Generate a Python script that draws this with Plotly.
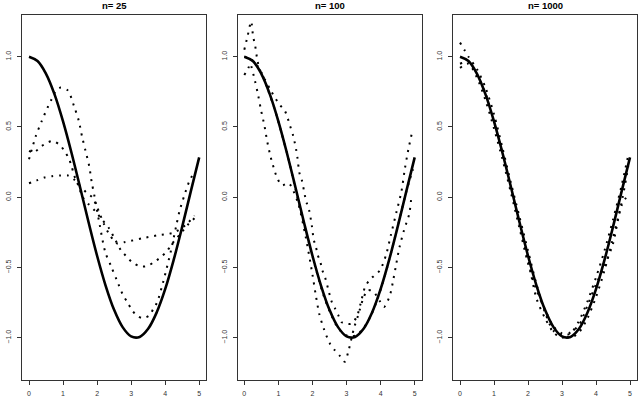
import plotly.graph_objects as go

# ---- data ----
titles = ["n= 25", "n= 100", "n= 1000"]
x_ticks = [0, 1, 2, 3, 4, 5]
y_ticks = [-1.0, -0.5, 0.0, 0.5, 1.0]

true_x = [0, 0.25, 0.5, 0.75, 1.0, 1.25, 1.5, 1.75, 2.0, 2.25, 2.5, 2.75, 3.0,
          3.25, 3.5, 3.75, 4.0, 4.25, 4.5, 4.75, 5.0]
true_y = [1.000, 0.969, 0.878, 0.732, 0.540, 0.315, 0.071, -0.178, -0.416, -0.628,
          -0.801, -0.924, -0.990, -0.994, -0.936, -0.820, -0.654, -0.446, -0.211,
          0.038, 0.284]

# n = 25 estimates
a_x = [0, 0.2, 0.37, 0.55, 0.65, 0.8, 0.93, 1.14, 1.32, 1.46, 1.56, 1.66, 1.77, 1.84,
       1.93, 2.08, 2.24, 2.41, 2.58, 2.77, 2.90, 3.02, 3.16, 3.34, 3.54, 3.66, 3.76,
       3.90, 4.03, 4.17, 4.32, 4.42, 4.56, 4.72, 4.86]
a_y = [0.27, 0.435, 0.54, 0.64, 0.69, 0.76, 0.78, 0.76, 0.65, 0.546, 0.43, 0.33, 0.22,
       0.11, 0.0, -0.20, -0.39, -0.49, -0.59, -0.70, -0.75, -0.80, -0.84, -0.86, -0.84,
       -0.79, -0.75, -0.64, -0.52, -0.38, -0.21, -0.10, 0.01, 0.12, 0.18]
b_x = [0, 0.15, 0.35, 0.55, 0.71, 0.91, 1.04, 1.16, 1.24, 1.31, 1.38, 1.48, 1.55, 1.75,
       1.95, 2.15, 2.35, 2.55, 2.71, 2.86, 3.02, 3.24, 3.46, 3.68, 3.85, 4.03, 4.15,
       4.27, 4.45, 4.65, 4.86]
b_y = [0.33, 0.32, 0.36, 0.39, 0.40, 0.37, 0.33, 0.28, 0.23, 0.17, 0.12, 0.07, 0.01,
       -0.05, -0.10, -0.16, -0.22, -0.31, -0.38, -0.42, -0.46, -0.49, -0.49, -0.46,
       -0.43, -0.39, -0.35, -0.31, -0.26, -0.20, -0.15]
c_x = [0, 0.23, 0.45, 0.68, 0.91, 1.14, 1.31, 1.5, 1.7, 1.86, 2.0, 2.1, 2.2, 2.35, 2.5,
       2.6, 2.8, 3.0, 3.36, 3.8, 4.27, 4.64, 4.86]
c_y = [0.10, 0.12, 0.14, 0.15, 0.155, 0.155, 0.13, 0.08, 0.03, 0.0, -0.07, -0.13, -0.19,
       -0.26, -0.31, -0.33, -0.32, -0.31, -0.29, -0.27, -0.25, -0.19, -0.13]

# n = 100 estimates
d_x = [0, 0.1, 0.2, 0.26, 0.31, 0.38, 0.45, 0.55, 0.7, 0.9, 1.1, 1.3, 1.5, 1.7, 1.9,
       2.1, 2.3, 2.5, 2.7, 2.9, 3.1, 3.3, 3.5, 3.7, 3.9, 4.1, 4.3, 4.5, 4.7, 4.85, 4.95]
d_y = [1.05, 1.15, 1.25, 1.14, 1.09, 0.98, 0.91, 0.86, 0.76, 0.62, 0.45, 0.27, 0.06,
       -0.14, -0.33, -0.51, -0.68, -0.81, -0.91, -0.97, -0.99, -0.98, -0.93, -0.85,
       -0.73, -0.58, -0.40, -0.21, -0.01, 0.12, 0.20]
e_x = [0, 0.12, 0.17, 0.31, 0.41, 0.49, 0.59, 0.67, 0.77, 0.90, 0.98, 1.1, 1.3, 1.45,
       1.6, 1.8, 2.0, 2.1, 2.2, 2.34, 2.51, 2.66, 2.81, 2.95, 3.05, 3.22, 3.34, 3.49,
       3.62, 3.78, 3.88, 3.98, 4.10, 4.27, 4.37, 4.44, 4.55, 4.68, 4.76, 4.84, 4.91]
e_y = [0.87, 0.92, 0.95, 0.83, 0.72, 0.62, 0.51, 0.40, 0.29, 0.18, 0.13, 0.085, 0.10,
       0.04, -0.06, -0.28, -0.55, -0.70, -0.83, -0.94, -1.04, -1.09, -1.13, -1.17, -1.10,
       -0.93, -0.84, -0.72, -0.66, -0.67, -0.70, -0.74, -0.78, -0.70, -0.59, -0.50,
       -0.36, -0.24, -0.18, -0.12, 0.02]
f_x = [0, 0.2, 0.4, 0.6, 0.8, 1.03, 1.18, 1.27, 1.34, 1.42, 1.47, 1.52, 1.56, 1.62,
       1.69, 1.78, 1.83, 1.90, 1.98, 2.04, 2.10, 2.15, 2.22, 2.29, 2.37, 2.49, 2.56,
       2.66, 2.76, 2.86, 3.0, 3.14, 3.30, 3.44, 3.54, 3.67, 3.80, 3.98, 4.16, 4.30,
       4.47, 4.61, 4.71, 4.79, 4.84, 4.94]
f_y = [1.0, 0.98, 0.93, 0.84, 0.75, 0.66, 0.62, 0.565, 0.51, 0.45, 0.40, 0.34, 0.28,
       0.17, 0.12, 0.01, -0.04, -0.09, -0.20, -0.305, -0.35, -0.41, -0.45, -0.52, -0.57,
       -0.68, -0.74, -0.79, -0.84, -0.89, -0.90, -0.90, -0.85, -0.73, -0.64, -0.59,
       -0.56, -0.52, -0.41, -0.27, -0.10, 0.04, 0.20, 0.31, 0.37, 0.48]

# n = 1000 estimates
g_x = [0, 0.25, 0.5, 0.75, 1.0, 1.25, 1.5, 1.75, 2.0, 2.25, 2.5, 2.75, 3.0, 3.25, 3.5,
       3.75, 4.0, 4.25, 4.5, 4.75, 4.95]
g_y = [1.10, 1.00, 0.91, 0.78, 0.59, 0.35, 0.10, -0.14, -0.38, -0.62, -0.82, -0.95,
       -0.98, -0.97, -0.88, -0.74, -0.57, -0.38, -0.16, 0.08, 0.30]
h_y = [0.92, 0.95, 0.85, 0.69, 0.49, 0.27, 0.03, -0.22, -0.47, -0.66, -0.80, -0.92,
       -0.97, -1.00, -0.96, -0.86, -0.71, -0.52, -0.29, -0.04, 0.22]
i_y = [0.95, 0.96, 0.87, 0.74, 0.53, 0.31, 0.06, -0.19, -0.44, -0.72, -0.86, -0.96,
       -1.00, -0.96, -0.91, -0.77, -0.62, -0.49, -0.33, -0.06, 0.02]

panels = [
    [(a_x, a_y), (b_x, b_y), (c_x, c_y)],
    [(d_x, d_y), (e_x, e_y), (f_x, f_y)],
    [(g_x, g_y), (g_x, h_y), (g_x, i_y)],
]

# ---- layout geometry (pixels) ----
W, H = 640, 398
x_px = [(22.2, 206.0), (237.5, 421.5), (453.2, 636.8)]
y_px = (14.5, 380.0)

fig = go.Figure()
FONT = "Liberation Sans, Arial, Helvetica, sans-serif"

for i, curves in enumerate(panels):
    xa = "x" if i == 0 else f"x{i+1}"
    ya = "y" if i == 0 else f"y{i+1}"
    for cx, cy in curves:
        fig.add_trace(go.Scatter(
            x=cx, y=cy, mode="lines", xaxis=xa, yaxis=ya, showlegend=False,
            line=dict(color="black", width=2, dash="2px,5.8px", shape="spline",
                      smoothing=0.8),
            hoverinfo="skip"))
    fig.add_trace(go.Scatter(
        x=true_x, y=true_y, mode="lines", xaxis=xa, yaxis=ya, showlegend=False,
        line=dict(color="black", width=2.6, shape="spline"), hoverinfo="skip"))

    axis_common = dict(showgrid=False, zeroline=False, showline=True, mirror=True,
                       linecolor="#333", linewidth=1, ticks="outside", ticklen=4,
                       tickcolor="#333", tickwidth=1,
                       tickfont=dict(family=FONT, size=7, color="#333"))
    xkey = "xaxis" if i == 0 else f"xaxis{i+1}"
    ykey = "yaxis" if i == 0 else f"yaxis{i+1}"
    fig.update_layout(**{
        xkey: dict(domain=[x_px[i][0] / W, x_px[i][1] / W], range=[-0.2, 5.2],
                   tickvals=x_ticks, anchor=ya, ticklabelstandoff=3, **axis_common),
        ykey: dict(domain=[1 - y_px[1] / H, 1 - y_px[0] / H], range=[-1.3, 1.3],
                   tickvals=y_ticks, tickformat=".1f", tickangle=-90, anchor=xa,
                   ticklabelstandoff=3, **axis_common),
    })
    fig.add_annotation(
        text=f"<b>{titles[i]}</b>", xref="paper", yref="paper",
        x=(x_px[i][0] + x_px[i][1]) / 2 / W, y=1 - 6 / H,
        xanchor="center", yanchor="middle", showarrow=False,
        font=dict(family=FONT, size=9.5, color="black"))

fig.update_layout(width=W, height=H, margin=dict(l=0, r=0, t=0, b=0),
                  paper_bgcolor="white", plot_bgcolor="white")
fig.write_html("out.html")
